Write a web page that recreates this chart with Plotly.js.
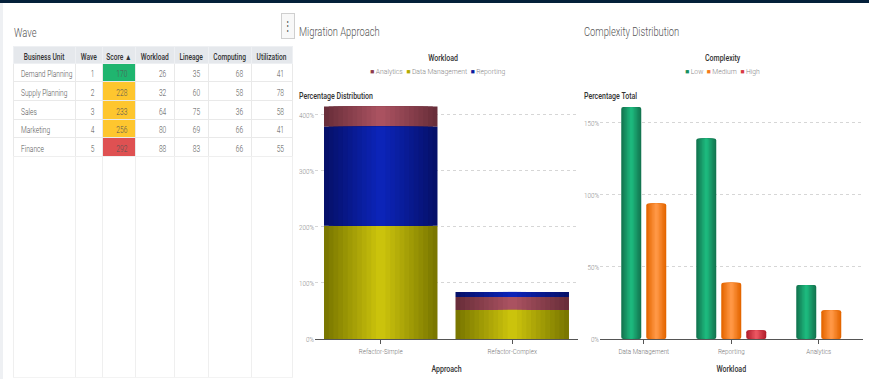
<!DOCTYPE html>
<html>
<head>
<meta charset="utf-8">
<script src="https://cdn.plot.ly/plotly-3.0.1.min.js"></script>
<style>
  html, body { margin: 0; padding: 0; background: #fff; }
  #chart { width: 869px; height: 379px; }
</style>
</head>
<body>
<div id="chart"></div>
<script>
// ---------- Table data ----------
const tableHeaders = ['Business Unit', 'Wave', 'Score \u25B2', 'Workload', 'Lineage', 'Computing', 'Utilization'];
const businessUnits = ['Demand Planning', 'Supply Planning', 'Sales', 'Marketing', 'Finance'];
const waves = [1, 2, 3, 4, 5];
const scores = [170, 228, 233, 256, 292];
const workloadScores = [26, 32, 64, 80, 88];
const lineage = [35, 60, 75, 69, 83];
const computing = [68, 58, 36, 66, 66];
const utilization = [41, 78, 58, 41, 55];

// ---------- Migration Approach (stacked) ----------
const approaches = ['Refactor-Simple', 'Refactor-Complex'];
const workloadNames = ['Analytics', 'Data Management', 'Reporting'];
const approachAnalytics = [36, 23];
const approachDataManagement = [202, 52];
const approachReporting = [177, 9];

// ---------- Complexity Distribution (grouped) ----------
const workloadCats = ['Data Management', 'Reporting', 'Analytics'];
const complexityNames = ['Low', 'Medium', 'High'];
const complexityLow = [161, 139, 37.5];
const complexityMedium = [94, 39, 20];
const complexityHigh = [null, 6, null];

// ---------- helpers ----------
const W = 869, H = 379;
const px = x => x / W;
const py = y => 1 - y / H;
const FONT = 'Roboto, Arial, sans-serif';
const CONDENSE = 0.78;

function hex2rgb(h) { h = h.replace('#', ''); return [0, 2, 4].map(i => parseInt(h.substr(i, 2), 16)); }
function mix(a, b, t) {
  const A = hex2rgb(a), B = hex2rgb(b);
  return 'rgb(' + A.map((v, i) => Math.round(v + (B[i] - v) * t)).join(',') + ')';
}
const nb = v => String(v).replace(/ /g, '\u00A0');

// gradient (cylinder-like) bars by layering narrower, lighter bars
function gradBars(traces, o) {
  for (let k = 0; k < o.n; k++) {
    const f = 1 - k / o.n;
    const t = o.n > 1 ? k / (o.n - 1) : 0;
    traces.push({
      type: 'bar', x: o.x, y: o.y, base: o.base,
      offset: o.centers.map(c => c - o.width * f / 2),
      width: o.width * f,
      marker: { color: mix(o.edge, o.mid, t), line: { width: 0 }, cornerradius: o.radius || 0 },
      xaxis: o.xaxis, yaxis: o.yaxis, showlegend: false, hoverinfo: 'skip'
    });
  }
}

const traces = [];

// ---------- Table ----------
function scoreColor(s) { return s < 200 ? '#1fb56f' : (s < 280 ? '#fec62e' : '#df5152'); }
const colValues = [businessUnits, waves, scores, workloadScores, lineage, computing, utilization];
const colFill = colValues.map((col, ci) => ci === 2 ? scores.map(scoreColor) : col.map(() => '#ffffff'));
const colWidths = [62.3, 27.3, 33, 39, 34, 43, 41];

traces.push({
  type: 'table',
  domain: { x: [px(13), px(292.7)], y: [py(156.7), py(46)] },
  columnwidth: colWidths,
  header: {
    values: tableHeaders.map(nb),
    align: 'center',
    height: 17,
    fill: { color: '#e5e8ec' },
    line: { color: '#eef0f3', width: 1 },
    font: { family: FONT, size: 8.5, color: '#333', weight: 500 }
  },
  cells: {
    values: colValues.map(col => col.map(nb)),
    align: ['left', 'right', 'right', 'right', 'right', 'right', 'right'],
    height: 18.7,
    fill: { color: colFill },
    line: { color: '#e9e9e9', width: 1 },
    font: { family: FONT, size: 8.5, color: '#555', weight: 300 }
  }
});
// empty remainder of the table grid
traces.push({
  type: 'table',
  domain: { x: [px(13), px(292.7)], y: [py(378), py(156.7)] },
  columnwidth: colWidths,
  header: {
    values: tableHeaders.map(() => ''),
    height: 221,
    fill: { color: '#ffffff' },
    line: { color: '#efefef', width: 1 }
  },
  cells: { values: tableHeaders.map(() => []) }
});

// ---------- Stacked bars (each column stacked largest at the bottom) ----------
const stackSeries = [
  { vals: approachAnalytics, edge: '#692e3a', mid: '#aa5260' },
  { vals: approachDataManagement, edge: '#7a7700', mid: '#cbc30c' },
  { vals: approachReporting, edge: '#05106a', mid: '#0c24b8' }
];
const stackBase = stackSeries.map(() => approaches.map(() => 0));
approaches.forEach((_, i) => {
  const order = stackSeries.map((s, si) => si).sort((a, b) => stackSeries[b].vals[i] - stackSeries[a].vals[i]);
  let acc = 0;
  order.forEach(si => { stackBase[si][i] = acc; acc += stackSeries[si].vals[i]; });
});
stackSeries.forEach((s, si) => {
  gradBars(traces, {
    x: approaches, y: s.vals, base: stackBase[si], centers: approaches.map(() => 0), width: 0.863,
    edge: s.edge, mid: s.mid, n: 12, xaxis: 'x', yaxis: 'y'
  });
});

// ---------- Grouped bars ----------
const compSeries = [
  { vals: complexityLow, edge: '#137650', mid: '#1db87d' },
  { vals: complexityMedium, edge: '#e46600', mid: '#ff9745' },
  { vals: complexityHigh, edge: '#b41f2d', mid: '#ea5560' }
];
const pitch = 25 / 87.5, bw = 20 / 87.5;
const presentCount = workloadCats.map((_, i) => compSeries.filter(s => s.vals[i] != null).length);
compSeries.forEach((s, si) => {
  const centers = workloadCats.map((_, i) => {
    const idx = compSeries.slice(0, si).filter(p => p.vals[i] != null).length;
    return (idx - (presentCount[i] - 1) / 2) * pitch;
  });
  gradBars(traces, {
    x: workloadCats, y: s.vals, base: workloadCats.map(() => 0), centers: centers, width: bw,
    edge: s.edge, mid: s.mid, n: 7, xaxis: 'x2', yaxis: 'y2', radius: 2
  });
});

// ---------- legends as text ----------
const workloadSwatch = ['#8e3c4c', '#b3ab00', '#0a1aa0'];
const complexitySwatch = ['#17905f', '#f47a1a', '#d83a44'];
const legendText = (names, cols) => names.map((n, i) =>
  '<span style="color:' + cols[i] + '">\u25A0</span> ' + n).join('  ');
const legendFont = { family: FONT, size: 6.8, color: '#888', weight: 300 };

const axisCommon = {
  showgrid: true, gridcolor: '#d6d6d6', griddash: 'dot', gridwidth: 1,
  zeroline: false, showline: false, ticks: '',
  tickfont: { family: FONT, size: 8, color: '#8a8a8a', weight: 300 }, ticksuffix: '%'
};
const xCommon = {
  type: 'category', showline: true, linecolor: '#555', linewidth: 1,
  ticks: 'outside', ticklen: 4, tickcolor: '#555', showgrid: false, zeroline: false,
  tickfont: { family: FONT, size: 8, color: '#777', weight: 300 }
};
const titleFont = { family: FONT, size: 9, color: '#333', weight: 500 };
const panelFont = { family: FONT, size: 12, color: '#555', weight: 300 };

const layout = {
  width: W, height: H,
  margin: { l: 0, r: 0, t: 0, b: 0 },
  paper_bgcolor: '#ffffff', plot_bgcolor: '#ffffff',
  barmode: 'overlay', showlegend: false,
  font: { family: FONT },
  xaxis: Object.assign({}, xCommon, {
    domain: [px(315), px(578)], range: [-0.5, 1.5], anchor: 'y',
    title: { text: 'Approach', font: titleFont, standoff: 11 }
  }),
  yaxis: Object.assign({}, axisCommon, {
    domain: [py(339), py(104)], range: [0, 419.6], dtick: 100, anchor: 'x'
  }),
  xaxis2: Object.assign({}, xCommon, {
    domain: [px(600), px(862.5)], range: [-0.5, 2.5], anchor: 'y2',
    title: { text: 'Workload', font: titleFont, standoff: 11 }
  }),
  yaxis2: Object.assign({}, axisCommon, {
    domain: [py(339), py(104)], range: [0, 163], dtick: 50, anchor: 'x2'
  }),
  shapes: [
    { type: 'rect', xref: 'paper', yref: 'paper', x0: 0, x1: 1, y0: py(3), y1: 1,
      fillcolor: '#04203a', line: { width: 0 }, layer: 'above' },
    { type: 'rect', xref: 'paper', yref: 'paper', x0: 0, x1: px(3), y0: 0, y1: py(3),
      fillcolor: '#eef0f3', line: { width: 0 } }
  ],
  annotations: [
    { text: 'Wave', x: px(12), y: py(33), xref: 'paper', yref: 'paper', xanchor: 'left', yanchor: 'middle', align: 'left',
      showarrow: false, font: panelFont },
    { text: 'Migration Approach', x: px(297), y: py(32), xref: 'paper', yref: 'paper', xanchor: 'left', yanchor: 'middle', align: 'left',
      showarrow: false, font: panelFont },
    { text: 'Complexity Distribution', x: px(582), y: py(32), xref: 'paper', yref: 'paper', xanchor: 'left', yanchor: 'middle', align: 'left',
      showarrow: false, font: panelFont },
    { text: '\u22EE', x: px(287.5), y: py(25.5), xref: 'paper', yref: 'paper', xanchor: 'center', yanchor: 'middle',
      showarrow: false, font: { family: FONT, size: 12, color: '#555' },
      bgcolor: '#f8f8f8', bordercolor: '#cfcfcf', borderwidth: 1, borderpad: 4, width: 4, height: 16 },
    // legend titles and entries
    { text: 'Workload', x: px(443), y: py(58), xref: 'paper', yref: 'paper', xanchor: 'center', yanchor: 'middle',
      showarrow: false, font: titleFont },
    { text: legendText(workloadNames, workloadSwatch), x: px(438), y: py(72), xref: 'paper', yref: 'paper',
      xanchor: 'center', yanchor: 'middle', showarrow: false, font: legendFont },
    { text: 'Complexity', x: px(722.5), y: py(58), xref: 'paper', yref: 'paper', xanchor: 'center', yanchor: 'middle',
      showarrow: false, font: titleFont },
    { text: legendText(complexityNames, complexitySwatch), x: px(722.5), y: py(72), xref: 'paper', yref: 'paper',
      xanchor: 'center', yanchor: 'middle', showarrow: false, font: legendFont },
    // y-axis titles
    { text: 'Percentage Distribution', x: px(297), y: py(96), xref: 'paper', yref: 'paper', xanchor: 'left', yanchor: 'middle', align: 'left',
      showarrow: false, font: titleFont },
    { text: 'Percentage Total', x: px(582), y: py(96), xref: 'paper', yref: 'paper', xanchor: 'left', yanchor: 'middle', align: 'left',
      showarrow: false, font: titleFont }
  ]
};

// Narrow the glyphs horizontally to imitate the condensed dashboard font
// (multi-part legend lines are left untouched)
function condense() {
  document.querySelectorAll('#chart svg text').forEach(t => {
    if (t.getAttribute('data-cw')) return;
    if (t.querySelector('tspan') && t.textContent.indexOf('\u25A0') !== -1) return;
    const w = t.getComputedTextLength();
    if (w > 0) {
      t.setAttribute('data-cw', w);
      t.setAttribute('textLength', (w * CONDENSE).toFixed(2));
      t.setAttribute('lengthAdjust', 'spacingAndGlyphs');
    }
  });
}

Plotly.newPlot('chart', traces, layout, { displayModeBar: false, staticPlot: true }).then(() => {
  condense();
  requestAnimationFrame(condense);
  setTimeout(condense, 30);
});
</script>
</body>
</html>
